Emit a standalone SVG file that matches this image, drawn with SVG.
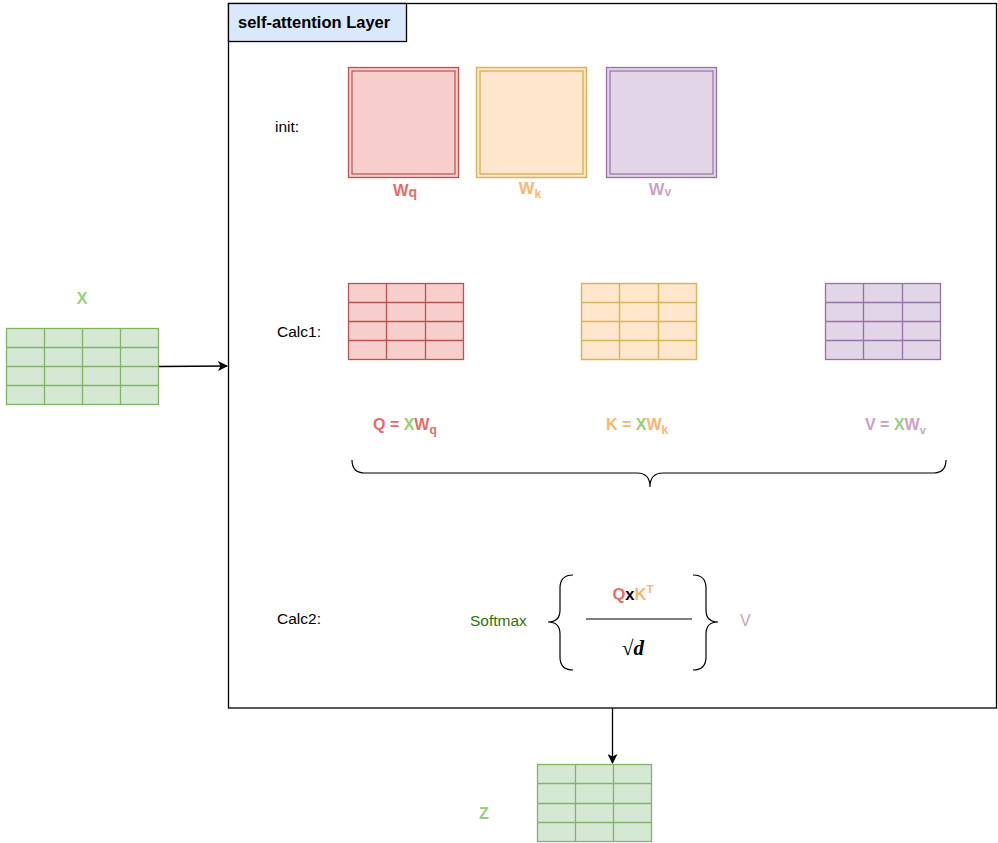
<svg xmlns="http://www.w3.org/2000/svg" width="998" height="843" viewBox="0 0 998 843">
  <defs>
    <style>
      .lbl { font-family: "Liberation Sans", Arial, sans-serif; font-size: 15.5px; fill: #000; }
      .b { font-family: "Liberation Sans", Arial, sans-serif; font-weight: bold; }
      .red { fill: #EA6B66; }
      .org { fill: #FFB570; }
      .pur { fill: #CDA2BE; }
      .grn { fill: #97D077; }
      .mr { fill: #f8cecc; stroke: #b85450; stroke-width: 1.3; }
      .mo { fill: #ffe6cc; stroke: #d6b656; stroke-width: 1.5; }
      .mp { fill: #e1d5e7; stroke: #9673a6; stroke-width: 1.3; }
      .mg { fill: #d5e8d4; stroke: #82b366; stroke-width: 1.3; }
      .brace { fill: none; stroke: #000; stroke-width: 1.2; }
      .conn { fill: none; stroke: #000; stroke-width: 1.3; }
    </style>
    <marker id="arr" viewBox="0 0 10 10" refX="9" refY="5" markerWidth="10" markerHeight="10" markerUnits="userSpaceOnUse" orient="auto">
      <path d="M0,0 L10,5 L0,10 L2.5,5 Z" fill="#000"/>
    </marker>
  </defs>

  <!-- container -->
  <g id="layer">
    <rect x="228.5" y="3.5" width="768" height="704.5" fill="#fff" stroke="#000" stroke-width="1.3"/>
    <rect x="228.5" y="3.5" width="178" height="38" fill="#dae8fc" stroke="#000" stroke-width="1.3"/>
    <text x="238" y="28" class="b" font-size="16.5">self-attention Layer</text>
  </g>

  <!-- row labels -->
  <g id="labels">
    <text x="275" y="132" class="lbl">init:</text>
    <text x="277" y="337" class="lbl">Calc1:</text>
    <text x="277" y="624" class="lbl">Calc2:</text>
  </g>

  <!-- weight matrices -->
  <g id="wq">
    <rect x="348.5" y="67.5" width="110" height="110" class="mr"/>
    <rect x="352" y="71" width="103" height="103" fill="none" stroke="#b85450" stroke-width="1.2"/>
    <text x="405" y="196" class="b red" font-size="16.5" text-anchor="middle">W<tspan font-size="14" dy="1">q</tspan></text>
  </g>
  <g id="wk">
    <rect x="476.5" y="67.5" width="110" height="110" class="mo"/>
    <rect x="480" y="71" width="103" height="103" fill="none" stroke="#d6b656" stroke-width="1.4"/>
    <text x="530" y="194" class="b org" font-size="16.5" text-anchor="middle">W<tspan font-size="12" dy="4">k</tspan></text>
  </g>
  <g id="wv">
    <rect x="606.5" y="67.5" width="110" height="110" class="mp"/>
    <rect x="610" y="71" width="103" height="103" fill="none" stroke="#9673a6" stroke-width="1.2"/>
    <text x="660" y="195" class="b pur" font-size="16.5" text-anchor="middle">W<tspan font-size="12" dy="1">v</tspan></text>
  </g>

  <!-- input X -->
  <g id="x">
    <text x="82" y="304" class="b grn" font-size="16" text-anchor="middle">X</text>
    <rect x="6.5" y="328.5" width="152" height="76" class="mg"/>
    <path d="M44.5,328.5V404.5M82.5,328.5V404.5M120.5,328.5V404.5M6.5,347.5H158.5M6.5,366.5H158.5M6.5,385.5H158.5" fill="none" stroke="#82b366" stroke-width="1.3"/>
  </g>

  <!-- Q, K, V matrices -->
  <g id="q">
    <rect x="348.5" y="283.5" width="115" height="76" class="mr"/>
    <path d="M386.5,283.5V359.5M425.5,283.5V359.5M348.5,302.5H463.5M348.5,321.5H463.5M348.5,340.5H463.5" fill="none" stroke="#b85450" stroke-width="1.3"/>
    <text x="373" y="430" class="b red" font-size="16">Q = <tspan class="grn">X</tspan>W<tspan font-size="12" dy="4">q</tspan></text>
  </g>
  <g id="k">
    <rect x="581.5" y="283.5" width="115" height="76" class="mo"/>
    <path d="M619.5,283.5V359.5M658.5,283.5V359.5M581.5,302.5H696.5M581.5,321.5H696.5M581.5,340.5H696.5" fill="none" stroke="#d6b656" stroke-width="1.5"/>
    <text x="606" y="430" class="b org" font-size="16">K = <tspan class="grn">X</tspan>W<tspan font-size="12" dy="4">k</tspan></text>
  </g>
  <g id="v">
    <rect x="825.5" y="283.5" width="115" height="76" class="mp"/>
    <path d="M863.5,283.5V359.5M902.5,283.5V359.5M825.5,302.5H940.5M825.5,321.5H940.5M825.5,340.5H940.5" fill="none" stroke="#9673a6" stroke-width="1.3"/>
    <text x="865" y="430" class="b pur" font-size="16">V = <tspan class="grn">X</tspan>W<tspan font-size="11" dy="4">v</tspan></text>
  </g>

  <!-- grouping brace under Q, K, V -->
  <g id="brace-qkv">
    <path class="brace" d="M352,460 Q352,473 365,473 L637,473 Q650,473 650,487 Q650,473 663,473 L933,473 Q946,473 946,460"/>
  </g>

  <!-- attention formula -->
  <g id="formula">
    <text x="470" y="626" font-family="Liberation Sans, Arial, sans-serif" font-size="15.5" fill="#2D7600">Softmax</text>
    <path class="brace" d="M573,575 Q560,575 560,588 L560,610 Q560,622 548,622 Q560,622 560,634 L560,657 Q560,670 573,670"/>
    <path class="brace" d="M693,575 Q706,575 706,588 L706,610 Q706,622 718,622 Q706,622 706,634 L706,657 Q706,670 693,670"/>
    <text x="633" y="600" class="b red" font-size="16.5" text-anchor="middle">Q<tspan fill="#000">x</tspan><tspan class="org">K</tspan><tspan class="org" font-size="11.5" dy="-7">T</tspan></text>
    <line x1="586" y1="619" x2="692" y2="619" stroke="#000" stroke-width="1.2"/>
    <text x="633" y="655" font-family="Liberation Serif, Times New Roman, serif" font-size="21" text-anchor="middle">√<tspan font-weight="bold" font-style="italic">d</tspan></text>
    <text x="740" y="626" class="pur" font-family="Liberation Sans, Arial, sans-serif" font-size="16">V</text>
  </g>

  <!-- output Z -->
  <g id="z">
    <rect x="537.5" y="764.5" width="114" height="77" class="mg"/>
    <path d="M575.5,764.5V841.5M613.5,764.5V841.5M537.5,783.5H651.5M537.5,803.5H651.5M537.5,822.5H651.5" fill="none" stroke="#82b366" stroke-width="1.3"/>
    <text x="484" y="819" class="b grn" font-size="16" text-anchor="middle">Z</text>
  </g>

  <!-- connectors -->
  <g id="connectors">
    <line class="conn" x1="159" y1="366.5" x2="227" y2="366" marker-end="url(#arr)"/>
    <line class="conn" x1="612.5" y1="708" x2="612.5" y2="763" marker-end="url(#arr)"/>
  </g>
</svg>
